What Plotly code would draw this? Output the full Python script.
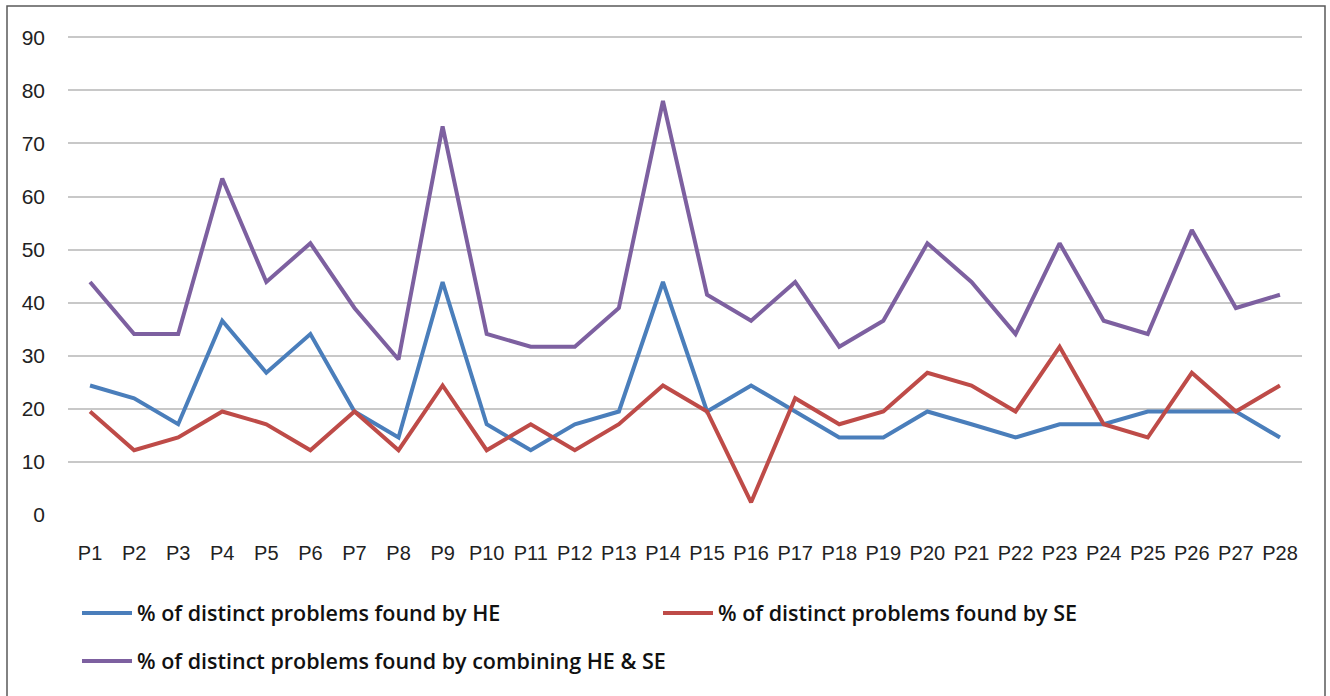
import plotly.graph_objects as go

categories = [f"P{i}" for i in range(1, 29)]
he_values = [24.4, 22.0, 17.1, 36.6, 26.8, 34.1, 19.5, 14.6, 43.9, 17.1, 12.2, 17.1, 19.5, 43.9,
             19.5, 24.4, 19.5, 14.6, 14.6, 19.5, 17.1, 14.6, 17.1, 17.1, 19.5, 19.5, 19.5, 14.6]
se_values = [19.5, 12.2, 14.6, 19.5, 17.1, 12.2, 19.5, 12.2, 24.4, 12.2, 17.1, 12.2, 17.1, 24.4,
             19.5, 2.4, 22.0, 17.1, 19.5, 26.8, 24.4, 19.5, 31.7, 17.1, 14.6, 26.8, 19.5, 24.4]
combined_values = [43.9, 34.1, 34.1, 63.4, 43.9, 51.2, 39.0, 29.3, 73.2, 34.1, 31.7, 31.7, 39.0, 78.0,
                   41.5, 36.6, 43.9, 31.7, 36.6, 51.2, 43.9, 34.1, 51.2, 36.6, 34.1, 53.7, 39.0, 41.5]
series_names = ["% of distinct problems found by HE",
                "% of distinct problems found by SE",
                "% of distinct problems found by combining HE & SE"]
y_ticks = [0, 10, 20, 30, 40, 50, 60, 70, 80, 90]

colors = ["#4a7ebb", "#be4b48", "#7d60a0"]
legend_ids = ["legend", "legend", "legend2"]
TICKFONT = "Liberation Sans, Arial, sans-serif"
LEGFONT = "Open Sans, Liberation Sans, Arial, sans-serif"

fig = go.Figure()
for name, vals, col, lg in zip(series_names, [he_values, se_values, combined_values], colors, legend_ids):
    fig.add_trace(go.Scatter(x=categories, y=vals, mode="lines", name=name, legend=lg,
                             line=dict(color=col, width=4)))

W, H = 1330, 696
ml, mr, mt, mb = 68, 28, 32, 181
pw = W - ml - mr
ph = H - mt - mb

def py(ypx):
    return (H - mb - ypx) / ph

legend_font = dict(family=LEGFONT, size=21.5, color="#111111", weight=600)
fig.update_layout(
    width=W, height=H,
    margin=dict(l=ml, r=mr, t=mt, b=mb, autoexpand=False),
    paper_bgcolor="white", plot_bgcolor="white",
    font=dict(family=TICKFONT, size=20, color="#222222"),
    xaxis=dict(type="category", range=[-0.5, 27.5], showgrid=False, zeroline=False,
               showline=False, ticks="", ticklabelstandoff=24,
               tickfont=dict(size=20, color="#222222")),
    yaxis=dict(range=[0, 91], tickvals=y_ticks, showgrid=True, gridcolor="#c8c8c8",
               gridwidth=1.5, zeroline=False, showline=False, ticks="",
               ticklabelstandoff=22, tickfont=dict(size=21, color="#222222")),
    legend=dict(orientation="h", x=(77 - ml) / pw, xanchor="left", y=py(613), yanchor="middle",
                entrywidth=516, entrywidthmode="pixels", bgcolor="rgba(0,0,0,0)",
                font=legend_font, itemwidth=50),
    legend2=dict(orientation="h", x=(77 - ml) / pw, xanchor="left", y=py(661), yanchor="middle",
                 bgcolor="rgba(0,0,0,0)", font=legend_font, itemwidth=50),
    showlegend=True,
)

fig.add_shape(type="rect", xref="paper", yref="paper",
              x0=(7 - ml) / pw, x1=(1325 - ml) / pw,
              y0=py(705), y1=py(6),
              line=dict(color="#5a5a5a", width=1.5), fillcolor="rgba(0,0,0,0)", layer="below")

fig.write_html("out.html", config={"displayModeBar": False},
               post_script="document.body.style.margin='0';")
